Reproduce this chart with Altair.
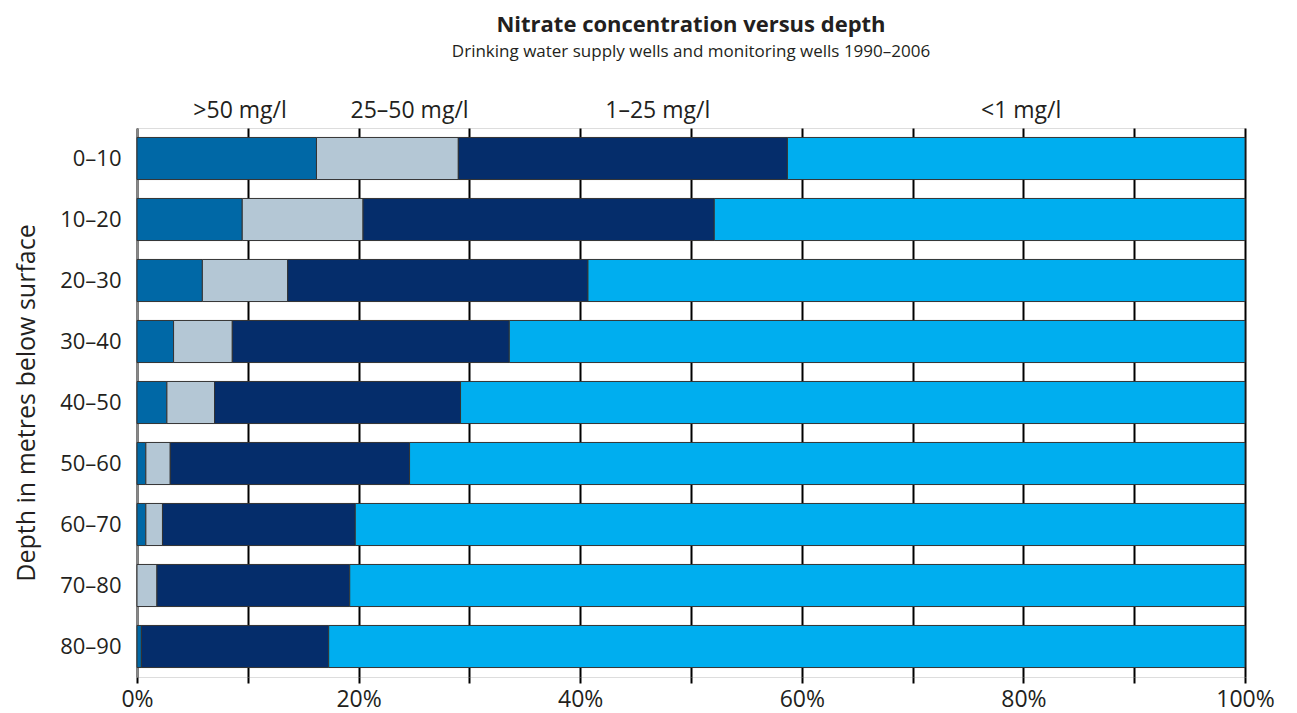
import altair as alt
import pandas as pd

depths = ["0–10", "10–20", "20–30", "30–40", "40–50", "50–60", "60–70", "70–80", "80–90"]
classes = [">50 mg/l", "25–50 mg/l", "1–25 mg/l", "<1 mg/l"]
gt50 = [16.2, 9.5, 5.9, 3.3, 2.7, 0.8, 0.8, 0.0, 0.4]
c25_50 = [12.8, 10.9, 7.7, 5.3, 4.3, 2.2, 1.5, 1.8, 0.0]
c1_25 = [29.7, 31.7, 27.1, 25.0, 22.2, 21.6, 17.4, 17.4, 16.9]
lt1 = [41.3, 47.9, 59.3, 66.4, 70.8, 75.4, 80.3, 80.8, 82.7]
label_pos = [9.3, 24.6, 47.0, 79.8]
colors = ["#0068A6", "#B4C7D5", "#052D6B", "#00AEEF"]

rows = []
for i, d in enumerate(depths):
    for k, (c, vals) in enumerate(zip(classes, [gt50, c25_50, c1_25, lt1])):
        if vals[i] > 0:
            rows.append({"depth": d, "cls": c, "order": k, "value": vals[i]})
df = pd.DataFrame(rows)
lab = pd.DataFrame({"cls": classes, "pos": label_pos})

TXT = "#231F20"
FONT = "Open Sans"

bars = alt.Chart(df).mark_bar(stroke="#333333", strokeWidth=1).encode(
    x=alt.X("sum(value):Q", stack="zero",
            scale=alt.Scale(domain=[0, 100], nice=False),
            axis=alt.Axis(values=list(range(0, 101, 10)), grid=True, gridColor="black",
                          gridWidth=2, tickColor="black", tickWidth=2, tickSize=6,
                          domain=False, labelFontSize=23, labelColor=TXT, labelFont=FONT,
                          labelPadding=5, labelFlush=False, title=None,
                          labelExpr="round(datum.value) % 20 == 0 ? datum.value + '%' : ''")),
    y=alt.Y("depth:N", sort=depths,
            scale=alt.Scale(paddingInner=0.31, paddingOuter=0.155),
            axis=alt.Axis(ticks=False, domainColor="#888888", domainWidth=1,
                          labelFontSize=22, labelColor=TXT, labelFont=FONT, labelPadding=16,
                          title="Depth in metres below surface", titleFontSize=25,
                          titleFontWeight="normal", titleColor=TXT, titleFont=FONT,
                          titlePadding=20)),
    color=alt.Color("cls:N", scale=alt.Scale(domain=classes, range=colors), legend=None),
    order=alt.Order("order:Q"),
)

labels = alt.Chart(lab).mark_text(fontSize=23, font=FONT, color=TXT, baseline="alphabetic",
                                  align="center").encode(
    x=alt.X("pos:Q"),
    y=alt.value(-10),
    text="cls:N",
)

chart = alt.layer(bars, labels).properties(
    width=1108,
    height=549,
    padding={"left": 129, "top": 120, "right": 30, "bottom": 40},
    autosize=alt.AutoSizeParams(type="none"),
    title=alt.TitleParams(
        text="Nitrate concentration versus depth",
        subtitle="Drinking water supply wells and monitoring wells 1990–2006",
        font=FONT, fontSize=22, fontWeight="bold", color=TXT,
        subtitleFont=FONT, subtitleFontSize=17, subtitleColor=TXT,
        anchor="middle", frame="group", offset=39, subtitlePadding=7,
    ),
).configure_view(stroke=None).configure(background="white")

chart.save("out.html", embed_options={"renderer": "svg", "actions": False})
